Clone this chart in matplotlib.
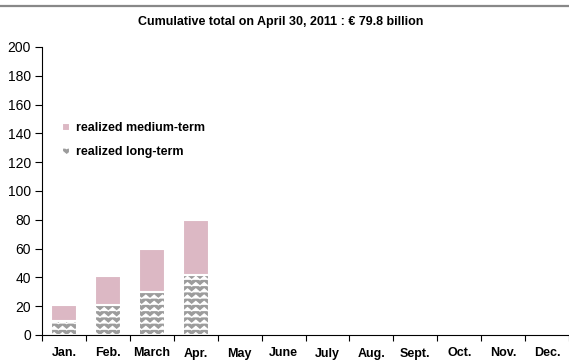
import numpy as np
import matplotlib
matplotlib.use("Agg")
import matplotlib.pyplot as plt
import matplotlib.hatch as mhatch
from matplotlib.path import Path
from matplotlib.lines import Line2D

# ---- data ----
months = ["Jan.", "Feb.", "March", "Apr.", "May", "June", "July", "Aug.",
          "Sept.", "Oct.", "Nov.", "Dec."]
long_term = [10, 20.5, 30, 42]
medium_term = [11, 20.5, 30, 37.8]
yticks = [0, 20, 40, 60, 80, 100, 120, 140, 160, 180, 200]
title = "Cumulative total on April 30, 2011 : \u20ac 79.8 billion"
labels = ["realized medium-term", "realized long-term"]


# ---- custom zig-zag hatch ----
class ZigZagHatch(mhatch.HatchPatternBase):
    def __init__(self, hatch, density):
        n = hatch.count('|')
        self.num_rows = 16 * n
        self.num_zigs = 12
        self.num_vertices = self.num_rows * (2 * self.num_zigs + 1)

    def set_vertices_and_codes(self, vertices, codes):
        xs = np.linspace(0, 1, 2 * self.num_zigs + 1)
        amp = 0.035
        k = len(xs)
        idx = 0
        for r in range(self.num_rows):
            y0 = (r + 0.5) / self.num_rows
            ys = y0 + np.where(np.arange(k) % 2 == 0, -amp / 2, amp / 2)
            vertices[idx:idx + k, 0] = xs
            vertices[idx:idx + k, 1] = ys
            codes[idx] = Path.MOVETO
            codes[idx + 1:idx + k] = Path.LINETO
            idx += k


mhatch._hatch_types = [ZigZagHatch]

plt.rcParams['font.family'] = ['Liberation Sans', 'DejaVu Sans']
plt.rcParams['hatch.linewidth'] = 0.9

fig = plt.figure(figsize=(5.69, 3.63), dpi=100)
ax = fig.add_axes([42 / 569, 28 / 363, 1 - 42 / 569, (335 - 47) / 363])

x = np.arange(len(long_term))
pink = "#dcb8c4"
gray = "#9c9c9c"
ax.bar(x, long_term, width=0.6, color=gray, edgecolor="white", linewidth=1.5,
       hatch="|", label=labels[1])
ax.bar(x, medium_term, bottom=long_term, width=0.6, color=pink,
       edgecolor="white", linewidth=1.5, label=labels[0])

ax.set_xlim(-0.5, len(months) - 0.5)
ax.set_ylim(0, 200)
ax.set_yticks(yticks)
ax.set_yticklabels([str(v) for v in yticks], fontsize=10)
ax.tick_params(axis='y', direction='out', length=5, width=0.8, pad=3)

ax.set_xticks(np.arange(len(months) + 1) - 0.5)
ax.set_xticklabels([])
ax.set_xticks(np.arange(len(months)), minor=True)
ax.set_xticklabels(months, minor=True, fontsize=9, fontweight='bold')
ax.tick_params(axis='x', which='major', direction='out', length=4, width=0.8)
ax.tick_params(axis='x', which='minor', length=0, pad=9)

for s in ['top', 'right']:
    ax.spines[s].set_visible(False)
for s in ['left', 'bottom']:
    ax.spines[s].set_linewidth(0.8)

h, l = ax.get_legend_handles_labels()
leg = ax.legend(h[::-1], l[::-1], loc='upper left',
                bbox_to_anchor=(57 / 569, 1 - 117 / 363),
                bbox_transform=fig.transFigure, frameon=False,
                prop={'weight': 'bold', 'size': 9},
                handlelength=0.6, handleheight=0.6, handletextpad=0.5,
                labelspacing=1.0, borderaxespad=0)

fig.text(281 / 569, 1 - 22 / 363, title, ha='center', va='center',
         fontsize=9, fontweight='bold')
fig.add_artist(Line2D([0, 1], [1 - 5.5 / 363, 1 - 5.5 / 363],
                      transform=fig.transFigure, color="#888888", lw=1.6))

fig.savefig("out.png", dpi=100)
